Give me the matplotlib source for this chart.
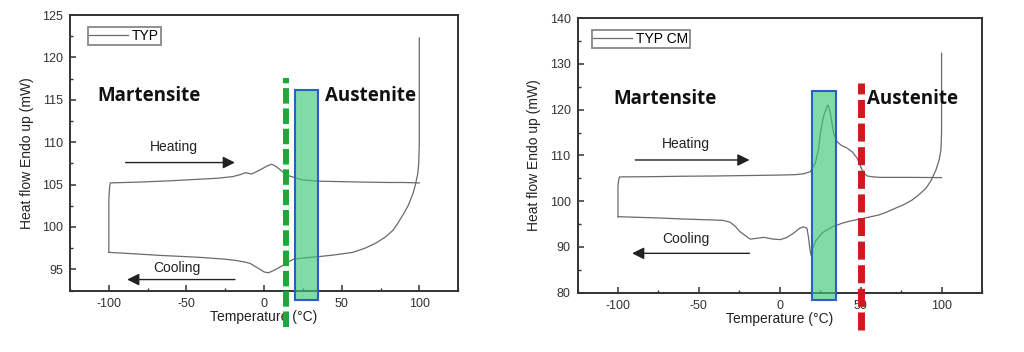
import matplotlib
matplotlib.use("Agg")
import matplotlib.pyplot as plt
from matplotlib.patches import Rectangle
from matplotlib.ticker import MultipleLocator

plt.rcParams['font.family'] = ['Liberation Sans', 'DejaVu Sans']
plt.rcParams['axes.unicode_minus'] = False

# ---- left panel: TYP ----
typ_heat_x = [-100, -100, -99.5, -99, -80, -60, -45, -30, -20, -15, -12, -8, -3, 2, 5, 8,
              12, 15, 20, 25, 35, 50, 62, 80, 90, 100]
typ_heat_y = [97.0, 103.2, 104.8, 105.2, 105.3, 105.45, 105.6, 105.75, 105.95, 106.2, 106.4,
              106.25, 106.7, 107.2, 107.4, 107.1, 106.5, 106.1, 105.8, 105.55, 105.4, 105.35,
              105.3, 105.25, 105.25, 105.2]
typ_cool_x = [100, 100, 99.6, 99.0, 97.5, 96, 93, 90, 86, 83, 78, 72, 65, 57, 45, 35, 25, 19,
              16.7, 12.4, 6, 2.8, 0, -2.6, -9, -12, -18, -25, -40, -50, -67, -85, -99.5, -100]
typ_cool_y = [122.3, 110, 107.5, 106.3, 105, 104, 102.6, 101.6, 100.4, 99.6, 98.8, 98.1, 97.5,
              97.0, 96.7, 96.5, 96.35, 96.2, 96.0, 95.5, 94.85, 94.6, 94.7, 95.0, 95.7, 95.85,
              96.05, 96.2, 96.4, 96.5, 96.65, 96.85, 97.0, 97.0]

# ---- right panel: TYP CM ----
cm_heat_x = [-100, -100, -99.5, -99, -80, -60, -41, -20, 0, 10, 15, 18.9, 22, 24, 25.1, 27,
             29.2, 30, 31.3, 33.3, 35.4, 38, 41.6, 45, 47.8, 50.9, 52.5, 54, 58, 62, 80, 100]
cm_heat_y = [96.6, 103.3, 104.8, 105.3, 105.35, 105.45, 105.5, 105.6, 105.7, 105.8, 106.0,
             106.45, 108.3, 111.5, 114.85, 118.5, 120.7, 121.0, 119.2, 114.85, 113.0, 112.2,
             111.6, 110.7, 109.4, 106.8, 106.0, 105.5, 105.3, 105.2, 105.2, 105.15]
cm_cool_x = [100, 100, 99.6, 98.5, 96.5, 93.5, 90.3, 86, 82, 77, 71.7, 66, 61.4, 55, 49.7, 44,
             38.7, 32.5, 26.3, 22.2, 20.5, 19.3, 18.6, 17.8, 16.8, 14.5, 12, 8.5, 4, 0.3, -4,
             -10, -14, -18.3, -21, -24.5, -27.5, -30.7, -35, -41.8, -60, -72.8, -90, -99.6, -100]
cm_cool_y = [132.3, 115, 111.2, 109, 106.8, 104.5, 102.8, 101.4, 100.3, 99.3, 98.5, 97.6, 97.0,
             96.5, 96.1, 95.7, 95.2, 94.4, 93.1, 91.3, 89.8, 88.2, 89.5, 92.0, 94.1, 94.4, 94.0,
             93.0, 92.0, 91.6, 91.7, 92.1, 91.9, 91.7, 92.4, 93.3, 94.5, 95.4, 95.8, 95.9, 96.1,
             96.3, 96.5, 96.6, 96.6]

panels = [
    dict(rect=[0.0684, 0.1733, 0.379, 0.784], ylim=(92.45, 125), ymajor=5, yminor=2.5,
         heat=(typ_heat_x, typ_heat_y), cool=(typ_cool_x, typ_cool_y), label='TYP',
         leg_anchor=(0.045, 0.955),
         box=(20, 91.4, 15, 24.8), vline=(14, 88.2, 117.6, '#1aaa3c', 4.3),
         mart=(-107.5, 115.4), aust=(39.3, 115.4),
         heat_txt=(-58, 109.4), heat_arr=(-91, -17, 107.6),
         cool_txt=(-56, 95.2), cool_arr=(-17, -90, 93.8)),
    dict(rect=[0.564, 0.1685, 0.395, 0.78], ylim=(80, 140), ymajor=10, yminor=5,
         heat=(cm_heat_x, cm_heat_y), cool=(cm_cool_x, cm_cool_y), label='TYP CM',
         leg_anchor=(0.035, 0.955),
         box=(20, 78.4, 15, 45.6), vline=(50, 71.8, 125.9, '#d0191e', 5.0),
         mart=(-102.7, 122.4), aust=(54.2, 122.4),
         heat_txt=(-58, 112.5), heat_arr=(-91, -17, 109.0),
         cool_txt=(-58, 91.8), cool_arr=(-17, -93, 88.6)),
]

fig = plt.figure(figsize=(10.24, 3.52), dpi=100)

for p in panels:
    ax = fig.add_axes(p['rect'])
    ax.set_xlim(-125, 125)
    ax.set_ylim(*p['ylim'])
    ax.xaxis.set_major_locator(MultipleLocator(50))
    ax.xaxis.set_minor_locator(MultipleLocator(25))
    ax.yaxis.set_major_locator(MultipleLocator(p['ymajor']))
    ax.yaxis.set_minor_locator(MultipleLocator(p['yminor']))
    ax.tick_params(which='both', direction='in', top=False, right=False,
                   labelsize=9, color='#333333', labelcolor='#333333', pad=5)
    ax.tick_params(which='major', length=4, width=1.1)
    ax.tick_params(which='minor', length=2.5, width=1.0)
    for s in ax.spines.values():
        s.set_linewidth(1.4)
        s.set_color('#333333')

    hx, hy = p['heat']
    cx, cy = p['cool']
    ax.plot(hx, hy, color='#6a6a6a', lw=0.9, label=p['label'])
    ax.plot(cx, cy, color='#6a6a6a', lw=0.9)

    leg = ax.legend(loc='upper left', bbox_to_anchor=p['leg_anchor'], fontsize=10,
                    frameon=True, fancybox=False, handlelength=2.8, handletextpad=0.3,
                    borderpad=0.12, borderaxespad=0.0, framealpha=1)
    leg.get_frame().set_edgecolor('#888888')
    leg.get_frame().set_linewidth(1.3)

    bx, by, bw, bh = p['box']
    ax.add_patch(Rectangle((bx, by), bw, bh, facecolor='#3cc878', edgecolor='none',
                           alpha=0.65, clip_on=False, zorder=4))
    ax.add_patch(Rectangle((bx, by), bw, bh, facecolor='none', edgecolor='#2a5fc4',
                           lw=1.5, clip_on=False, zorder=4))

    vx, vy0, vy1, vc, vlw = p['vline']
    ax.plot([vx, vx], [vy0, vy1], color=vc, lw=vlw, dashes=(2.6, 0.8),
            clip_on=False, zorder=6)

    ax.text(p['mart'][0], p['mart'][1], 'Martensite', family='Open Sans',
            fontweight='bold', fontsize=13.5, va='center', ha='left', color='#111111')
    ax.text(p['aust'][0], p['aust'][1], 'Austenite', family='Open Sans',
            fontweight='bold', fontsize=13.5, va='center', ha='left', color='#111111')

    ax.text(p['heat_txt'][0], p['heat_txt'][1], 'Heating', fontsize=10, ha='center',
            va='center', color='#222222')
    ax.annotate('', xy=(p['heat_arr'][1], p['heat_arr'][2]),
                xytext=(p['heat_arr'][0], p['heat_arr'][2]),
                arrowprops=dict(arrowstyle='-|>', color='#222222', lw=1.0,
                                mutation_scale=18))
    ax.text(p['cool_txt'][0], p['cool_txt'][1], 'Cooling', fontsize=10, ha='center',
            va='center', color='#222222')
    ax.annotate('', xy=(p['cool_arr'][1], p['cool_arr'][2]),
                xytext=(p['cool_arr'][0], p['cool_arr'][2]),
                arrowprops=dict(arrowstyle='-|>', color='#222222', lw=1.0,
                                mutation_scale=18))

    ax.set_xlabel('Temperature (\u00b0C)', fontsize=10, color='#222222', labelpad=0)
    ax.set_ylabel('Heat flow Endo up (mW)', fontsize=10, color='#222222', labelpad=6)

fig.savefig('out.png', dpi=100)
